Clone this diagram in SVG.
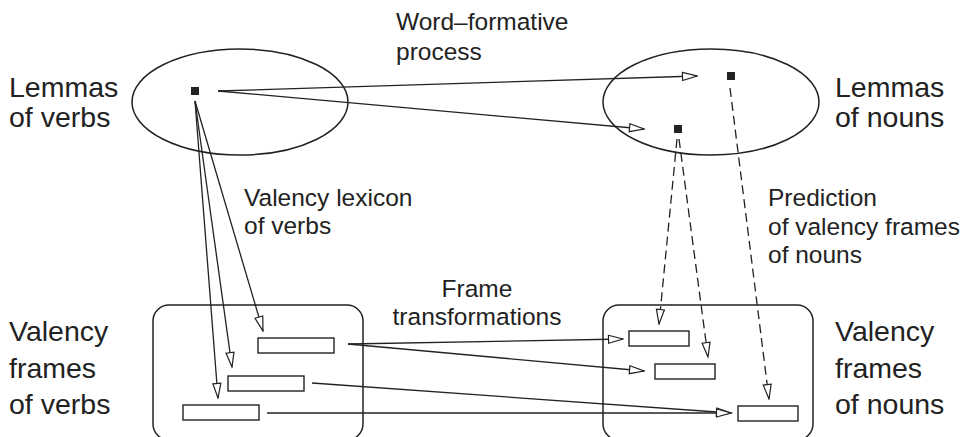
<svg xmlns="http://www.w3.org/2000/svg" width="966" height="437" viewBox="0 0 966 437">
<style>
.big{font-family:"Liberation Sans",Arial,sans-serif;font-size:28.5px;fill:#222}
.sm{font-family:"Liberation Sans",Arial,sans-serif;font-size:24.5px;fill:#222}
.sh{fill:none;stroke:#222;stroke-width:1.5}
.bx{fill:#fff;stroke:#222;stroke-width:1.4}
.ln{fill:none;stroke:#222;stroke-width:1.3}
.ds{fill:none;stroke:#222;stroke-width:1.3;stroke-dasharray:9 5}
.dot{fill:#222}
</style>
<defs>
<marker id="ah" markerWidth="17" markerHeight="11" refX="15.5" refY="5" orient="auto" markerUnits="userSpaceOnUse">
<path d="M1,1 L15.5,5 L1,9 Z" fill="#fff" stroke="#222" stroke-width="1.2" stroke-dasharray="none"/>
</marker>
</defs>
<rect width="966" height="437" fill="#fff"/>

<g id="lemmas-verbs">
<ellipse class="sh" cx="240" cy="102" rx="108" ry="53"/>
<rect class="dot" x="191" y="87" width="8" height="8"/>
<text class="big" x="9" y="97">Lemmas</text>
<text class="big" x="9" y="127">of verbs</text>
</g>

<g id="lemmas-nouns">
<ellipse class="sh" cx="711" cy="102" rx="108" ry="53"/>
<rect class="dot" x="727" y="72" width="8" height="8"/>
<rect class="dot" x="674" y="125" width="8" height="8"/>
<text class="big" x="835" y="97">Lemmas</text>
<text class="big" x="835" y="127">of nouns</text>
</g>

<g id="frames-verbs">
<rect class="sh" x="153" y="305" width="210" height="135" rx="16"/>
<rect class="bx" x="258" y="338" width="76" height="15"/>
<rect class="bx" x="228" y="376" width="76" height="15"/>
<rect class="bx" x="183" y="405" width="76" height="15"/>
<text class="big" x="9" y="341">Valency</text>
<text class="big" x="9" y="378">frames</text>
<text class="big" x="9" y="414">of verbs</text>
</g>

<g id="frames-nouns">
<rect class="sh" x="603" y="305" width="210" height="135" rx="16"/>
<rect class="bx" x="629" y="331" width="60" height="15"/>
<rect class="bx" x="655" y="364" width="60" height="15"/>
<rect class="bx" x="738" y="406" width="60" height="15"/>
<text class="big" x="835" y="341">Valency</text>
<text class="big" x="835" y="378">frames</text>
<text class="big" x="835" y="414">of nouns</text>
</g>

<g id="labels">
<text class="sm" x="396" y="30">Word–formative</text>
<text class="sm" x="396" y="60">process</text>
<text class="sm" x="244" y="206">Valency lexicon</text>
<text class="sm" x="244" y="234">of verbs</text>
<text class="sm" x="768" y="206">Prediction</text>
<text class="sm" x="768" y="235">of valency frames</text>
<text class="sm" x="768" y="263">of nouns</text>
<text class="sm" x="477" y="297" text-anchor="middle">Frame</text>
<text class="sm" x="477" y="325" text-anchor="middle">transformations</text>
</g>

<g id="connectors">
<line class="ln" x1="218" y1="91" x2="697" y2="76" marker-end="url(#ah)"/>
<line class="ln" x1="218" y1="91" x2="644" y2="129" marker-end="url(#ah)"/>
<line class="ln" x1="195" y1="101" x2="263" y2="331" marker-end="url(#ah)"/>
<line class="ln" x1="195" y1="101" x2="232" y2="367" marker-end="url(#ah)"/>
<line class="ln" x1="195" y1="101" x2="218" y2="398" marker-end="url(#ah)"/>
<line class="ln" x1="348" y1="344" x2="623" y2="339" marker-end="url(#ah)"/>
<line class="ln" x1="348" y1="344" x2="644" y2="371" marker-end="url(#ah)"/>
<line class="ln" x1="312" y1="383" x2="731" y2="413" marker-end="url(#ah)"/>
<line class="ln" x1="267" y1="413" x2="731" y2="413" marker-end="url(#ah)"/>
<line class="ds" x1="677" y1="139" x2="659" y2="324" marker-end="url(#ah)"/>
<line class="ds" x1="679" y1="139" x2="708" y2="357" marker-end="url(#ah)"/>
<line class="ds" x1="730" y1="88" x2="769" y2="399" marker-end="url(#ah)"/>
</g>
</svg>
